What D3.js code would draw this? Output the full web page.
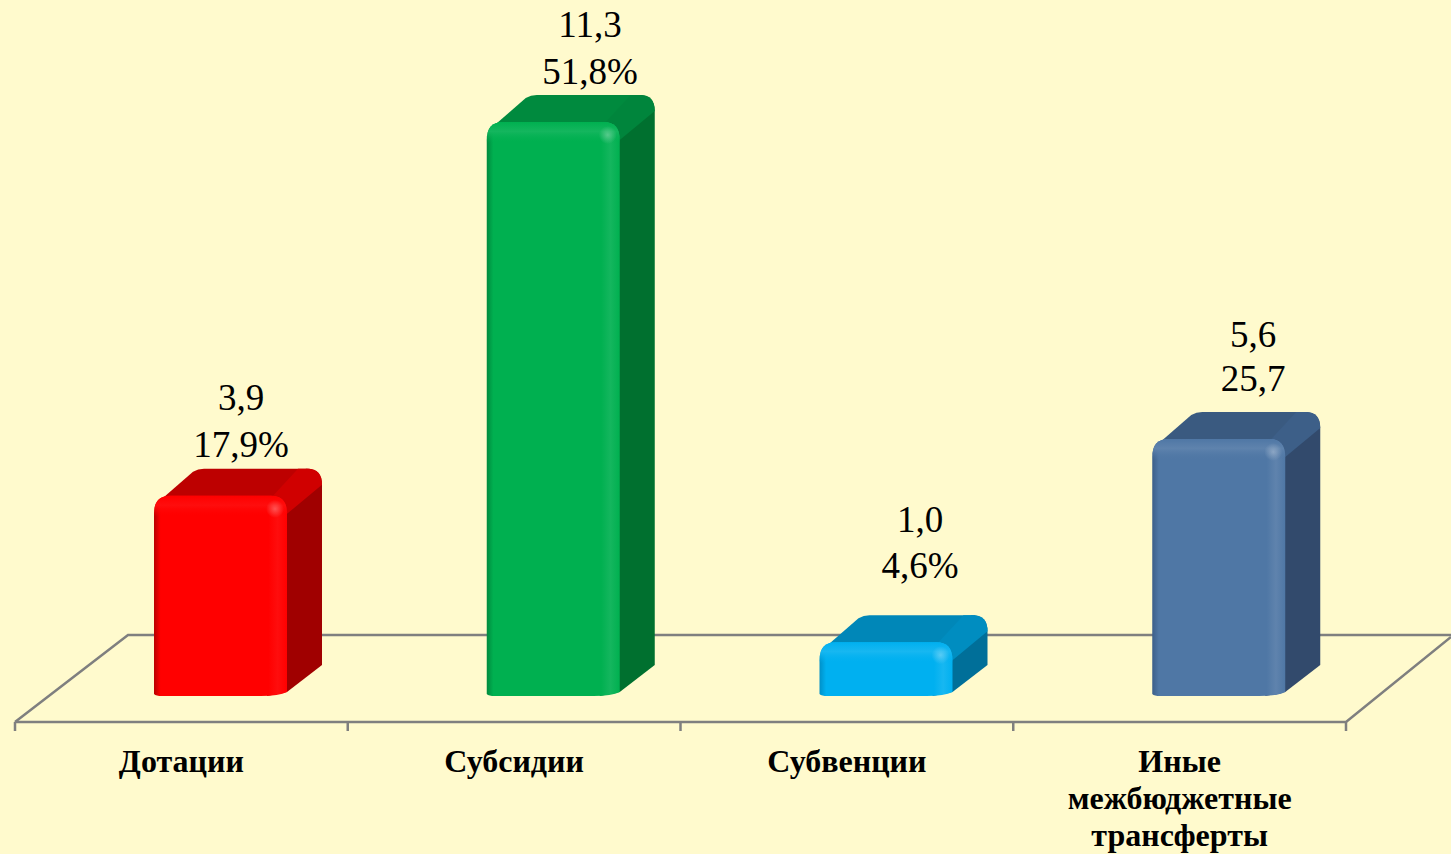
<!DOCTYPE html>
<html>
<head>
<meta charset="utf-8">
<script src="https://cdn.jsdelivr.net/npm/d3@7"></script>
<style>
  html, body { margin: 0; padding: 0; background: #fffacd; overflow: hidden; }
  svg { display: block; }
  text { font-family: "Liberation Serif", "DejaVu Serif", serif; fill: #000; }
</style>
</head>
<body>
<svg width="1451" height="854"></svg>
<script>
// Chart data
const categories = ["Дотации", "Субсидии", "Субвенции", "Иные межбюджетные трансферты"];
const categoryLines = [["Дотации"], ["Субсидии"], ["Субвенции"], ["Иные", "межбюджетные", "трансферты"]];
const valueLabels = ["3,9", "11,3", "1,0", "5,6"];
const shareLabels = ["17,9%", "51,8%", "4,6%", "25,7"];
// bar heights (the last bar is drawn shorter than its label says)
const barValues = [3.94, 11.3, 1.06, 5.06];

// Colours per bar
const frontColors = ["#ff0000", "#00b050", "#00b0f0", "#4f77a5"];
const topColors = ["#bd0000", "#008a3e", "#0087b8", "#3a5a80"];
const bevelColors = ["#d00000", "#00853c", "#008dc0", "#3d5f88"];
const sideColors = ["#a00000", "#00702f", "#006f99", "#324a6c"];
const edgeColors = ["#b80000", "#008a3e", "#0090c8", "#3c5f8a"];
const lightAmounts = [0.05, 0.08, 0.09, 0.09];

const svg = d3.select("svg");
const defs = svg.append("defs");

const floorLeft = 15, floorRight = 1346, floorFront = 722, floorBack = 635;
const depthX = 35, depthY = 27;
const barBase = 696, barTopMax = 122, barWidth = 133, barOffset = 139, radius = 16;

const x = d3.scaleBand().domain(categories).range([floorLeft, floorRight]);
const y = d3.scaleLinear().domain([0, 11.3]).range([barBase, barTopMax]);

// Floor
const floor = svg.append("g")
  .attr("fill", "none")
  .attr("stroke", "#7f7f7f")
  .attr("stroke-width", 2.5);
floor.append("path")
  .attr("d", `M${floorLeft},${floorFront} L128,${floorBack} L1451,${floorBack}`);
floor.append("path")
  .attr("d", `M${floorLeft},${floorFront} L${floorRight},${floorFront} L1451,637`);
floor.selectAll("line")
  .data(x.domain().map(d => x(d)).concat(floorRight))
  .join("line")
  .attr("x1", d => d).attr("x2", d => d)
  .attr("y1", floorFront).attr("y2", 731);

// Gradients for each bar colour
frontColors.forEach(function(color, i) {
  const light = d3.interpolateRgb(color, "#fff")(lightAmounts[i]);
  const g = defs.append("linearGradient").attr("id", "front" + i);
  [[0, edgeColors[i]], [0.05, color], [0.86, color], [0.93, light], [1, color]].forEach(function(s) {
    g.append("stop").attr("offset", s[0]).attr("stop-color", s[1]);
  });
  const t = defs.append("linearGradient").attr("id", "cap" + i)
    .attr("x1", 0).attr("x2", 0).attr("y1", 0).attr("y2", 1);
  t.append("stop").attr("offset", 0).attr("stop-color", color);
  t.append("stop").attr("offset", 0.45).attr("stop-color", light);
  t.append("stop").attr("offset", 1).attr("stop-color", color).attr("stop-opacity", 0);
  const h = defs.append("radialGradient").attr("id", "spot" + i);
  h.append("stop").attr("offset", 0).attr("stop-color", "#fff").attr("stop-opacity", 0.3);
  h.append("stop").attr("offset", 1).attr("stop-color", "#fff").attr("stop-opacity", 0);
});

// Bars
const bars = svg.append("g").selectAll("g")
  .data(categories)
  .join("g");

bars.each(function(c, i) {
  const g = d3.select(this);
  const x0 = x(c) + barOffset, x1 = x0 + barWidth;
  const y0 = y(barValues[i]), r = radius;
  const bx = x1 + depthX, by = y0 - depthY;

  // side face
  g.append("path")
    .attr("fill", sideColors[i])
    .attr("d", `M${x1 - 14},${y0} L${bx - r},${by} Q${bx},${by} ${bx},${by + r}
      L${bx},${barBase - 31} L${x1},${barBase - 4} L${x1 - 20},${barBase} Z`);
  // top face, runs under the bevel so no gap shows between them
  g.append("path")
    .attr("fill", topColors[i])
    .attr("d", `M${x0 + 8},${y0 + 3} L${x0 + 39},${by + 3} Q${x0 + 44},${by} ${x0 + 50},${by}
      L${bx - 12},${by} L${x1 - 4},${y0 + 2} Z`);
  // bevel between top and side
  g.append("path")
    .attr("fill", bevelColors[i])
    .attr("d", `M${x1 - 14},${y0} L${bx - 24},${by} L${bx - 14},${by} Q${bx},${by} ${bx},${by + r}
      L${x1},${y0 + r + 2} Z`);
  // front face
  g.append("path")
    .attr("fill", `url(#front${i})`)
    .attr("d", `M${x0},${barBase - 2} L${x0},${y0 + r + 2} Q${x0},${y0} ${x0 + r},${y0} L${x1 - r},${y0}
      Q${x1},${y0} ${x1},${y0 + r + 2} L${x1},${barBase - 4} Q${x1 - 8},${barBase} ${x1 - 26},${barBase}
      L${x0 + 8},${barBase} Q${x0 + 2},${barBase} ${x0},${barBase - 2} Z`);
  // rounded top edge of the front face
  g.append("path")
    .attr("fill", `url(#cap${i})`)
    .attr("d", `M${x0},${y0 + 21} L${x0},${y0 + r + 2} Q${x0},${y0} ${x0 + r},${y0} L${x1 - r},${y0}
      Q${x1},${y0} ${x1},${y0 + r + 2} L${x1},${y0 + 21} Z`);
  // highlight on the corner
  g.append("circle")
    .attr("cx", x1 - 12).attr("cy", y0 + 13)
    .attr("r", 9)
    .attr("fill", `url(#spot${i})`);
});

// Value labels
const labelX = [241, 590, 920, 1253];
const valueY = [410, 37, 532, 347];
const shareY = [457, 84, 578, 391];

const labels = svg.append("g")
  .attr("text-anchor", "middle")
  .attr("font-size", 37);
labels.selectAll("text.value")
  .data(valueLabels)
  .join("text")
  .attr("class", "value")
  .attr("x", (d, i) => labelX[i])
  .attr("y", (d, i) => valueY[i])
  .text(d => d);
labels.selectAll("text.share")
  .data(shareLabels)
  .join("text")
  .attr("class", "share")
  .attr("x", (d, i) => labelX[i])
  .attr("y", (d, i) => shareY[i])
  .text(d => d);

// Category labels
const axisLabels = svg.append("g")
  .attr("text-anchor", "middle")
  .attr("font-size", 32)
  .attr("font-weight", "bold");
categories.forEach(function(c, i) {
  axisLabels.selectAll(null)
    .data(categoryLines[i])
    .join("text")
    .attr("x", x(c) + x.bandwidth() / 2)
    .attr("y", (d, k) => 772 + k * 37)
    .text(d => d);
});
</script>
</body>
</html>
